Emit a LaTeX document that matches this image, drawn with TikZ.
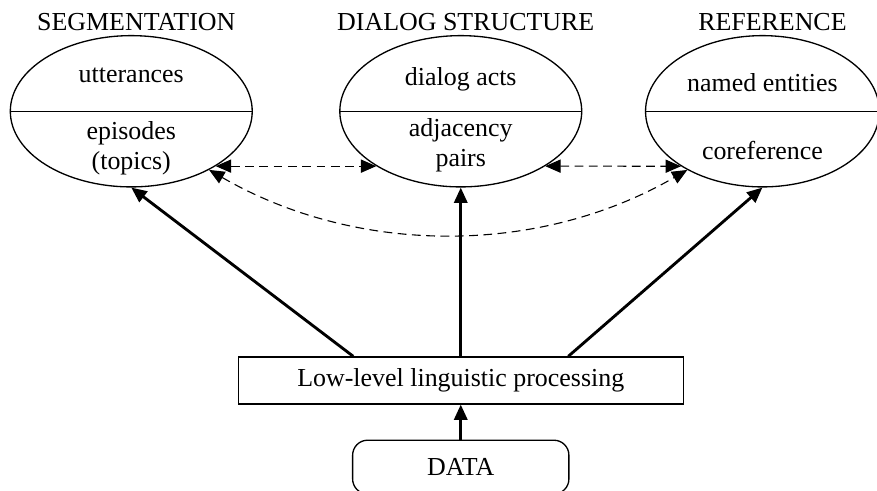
\documentclass[tikz,border=0pt]{standalone}
\usepackage{fontspec}
\setmainfont{Liberation Serif}
\usetikzlibrary{arrows.meta,positioning,shapes.geometric}

\tikzset{
  layer/.style={draw, ellipse, line width=0.6pt, minimum width=3.87cm,
                minimum height=2.42cm, inner sep=0pt},
  entry/.style={align=center},
  stage/.style={draw, rectangle, line width=0.6pt, minimum width=7.12cm,
                minimum height=0.75cm},
  source/.style={draw, rectangle, rounded corners=0.24cm, line width=0.6pt,
                 minimum width=3.46cm, minimum height=0.86cm},
  feed/.style={->, line width=1.3pt},
  link/.style={<->, dash pattern=on 4pt off 2.5pt, line width=0.5pt}
}

\begin{document}
\begin{tikzpicture}[>={Triangle[length=7pt,width=6pt]},
                    font=\fontsize{11.8}{13.8}\selectfont]
\useasboundingbox (0,0) rectangle (14.03,7.84);

% the three layers
\node[layer] (seg) at (2.10,6.06) {};
\node[layer] (dia) [right=1.38cm of seg] {};
\node[layer, minimum width=3.74cm] (ref) [right=1.0cm of dia] {};

\foreach \n in {seg,dia,ref}
  \draw[line width=0.6pt] (\n.west) -- (\n.east);

\node (segtitle) [above=-0.05cm of seg, xshift=0.08cm] {SEGMENTATION};
\node (diatitle) [above=-0.05cm of dia, xshift=0.08cm] {DIALOG STRUCTURE};
\node (reftitle) [above=-0.05cm of ref, xshift=0.16cm] {REFERENCE};

\node (utt) at ([yshift=0.57cm]seg.center) {utterances};
\node[entry] (epi) at ([yshift=-0.59cm]seg.center) {episodes\\(topics)};
\node (acts) at ([yshift=0.51cm]dia.center) {dialog acts};
\node[entry] (adj) at ([yshift=-0.54cm]dia.center) {adjacency\\pairs};
\node (ne) at ([yshift=0.46cm]ref.center) {named entities};
\node (coref) at ([yshift=-0.62cm]ref.center) {coreference};

% processing
\node[stage] (low) [below=2.7cm of dia] {Low-level linguistic processing};
\node[source] (data) [below=0.56cm of low] {DATA};

\path[feed]
([xshift=-1.72cm]low.north) edge (seg.south)
(low) edge (dia)
([xshift=1.72cm]low.north) edge (ref.south)
(data) edge (low);

\path[link]
(seg.-33) edge (dia.-147)
(dia.-33) edge (ref.-146)
(seg.-37) edge [out=-30, in=-150, looseness=0.92] (ref.-142);
\end{tikzpicture}
\end{document}
